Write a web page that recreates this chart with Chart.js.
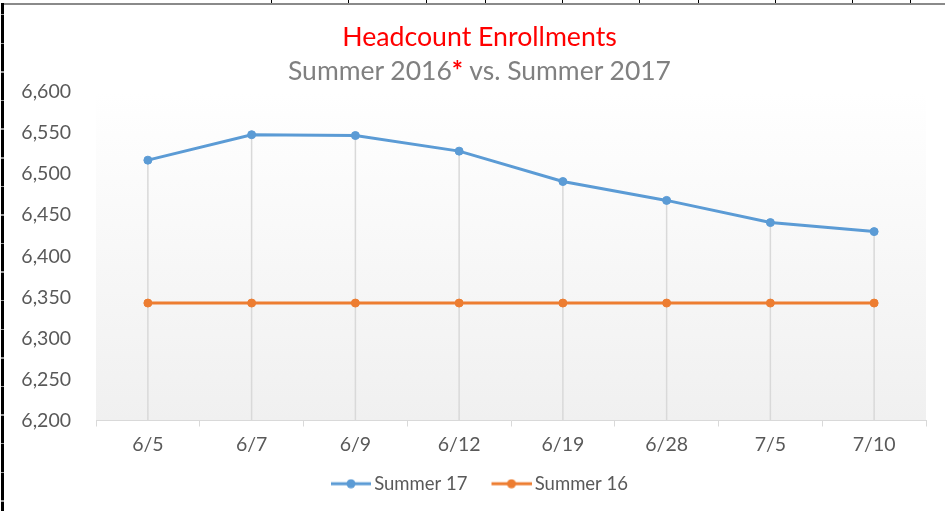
<!DOCTYPE html>
<html>
<head>
<meta charset="utf-8">
<script src="https://cdn.jsdelivr.net/npm/chart.js@4/dist/chart.umd.min.js"></script>
<style>
  html, body { margin: 0; padding: 0; background: #ffffff; }
  #wrap { position: relative; width: 945px; height: 511px; overflow: hidden; background: #ffffff; }
  #chartBox { position: absolute; left: 0; top: 0; width: 945px; height: 511px; }
  .title { position: absolute; left: 7px; width: 945px; text-align: center; font-family: Lato, "Open Sans", sans-serif; white-space: nowrap; }
  #t1 { top: 19px; font-size: 26.7px; color: #ff0000; line-height: 34px; }
  #t2 { top: 53px; font-size: 26.5px; color: #808080; line-height: 34px; }
  #t2 .star { color: #ff0000; font-weight: bold; }
  #topLine { position: absolute; left: 3px; top: 3px; width: 942px; height: 2px; background: #8a8a8a; }
  #leftLine { position: absolute; left: 1px; top: 3px; width: 3px; height: 508px;
    background: repeating-linear-gradient(to bottom, #000 0px, #000 13px, #9a9a9a 13px, #9a9a9a 14.5px, #000 14.5px, #000 28.6px);
    background-position: 0 -2px; }
  .cell { position: absolute; top: 0; width: 1px; height: 3px; background: #000; }
</style>
</head>
<body>
<div id="wrap">
  <div id="chartBox"><canvas id="c" width="945" height="511"></canvas></div>
  <div class="title" id="t1">Headcount Enrollments</div>
  <div class="title" id="t2">Summer 2016<span class="star">*</span> vs. Summer 2017</div>
  <div id="topLine"></div>
  <div id="leftLine"></div>
</div>
<script>
// ---- data ----
const categories = ['6/5', '6/7', '6/9', '6/12', '6/19', '6/28', '7/5', '7/10'];
const summer17 = [6517, 6548, 6547, 6528, 6491, 6468, 6441, 6430];
const summer16 = [6343, 6343, 6343, 6343, 6343, 6343, 6343, 6343];
const seriesNames = ['Summer 17', 'Summer 16'];
const yMin = 6200;
const yMax = 6600;
const yStep = 50;

// spreadsheet cell borders above the chart
const cellXs = [271, 348, 426, 485, 562, 639, 698, 775, 852, 910];
cellXs.forEach(x => {
  const d = document.createElement('div');
  d.className = 'cell';
  d.style.left = x + 'px';
  document.getElementById('wrap').appendChild(d);
});

const BLUE = '#5b9bd5';
const ORANGE = '#ed7d31';
const FONT = 'Lato, "Open Sans", sans-serif';

// legend marker: line with a dot, drawn inside a wider transparent image
function markerImage(color) {
  const cv = document.createElement('canvas');
  cv.width = 60; cv.height = 10;
  const g = cv.getContext('2d');
  g.strokeStyle = color; g.lineWidth = 3;
  g.beginPath(); g.moveTo(20, 5); g.lineTo(60, 5); g.stroke();
  g.fillStyle = color;
  g.beginPath(); g.arc(40, 5, 4.5, 0, Math.PI * 2); g.fill();
  return cv;
}
const markers = [markerImage(BLUE), markerImage(ORANGE)];

const plotBg = {
  id: 'plotBg',
  beforeDraw(chart) {
    const { ctx, chartArea: a } = chart;
    const g = ctx.createLinearGradient(0, a.top, 0, a.bottom);
    g.addColorStop(0, '#ffffff');
    g.addColorStop(1, '#f0f0f0');
    ctx.save();
    ctx.fillStyle = g;
    ctx.fillRect(a.left, a.top, a.right - a.left, a.bottom - a.top);
    ctx.restore();
  }
};

const dropLines = {
  id: 'dropLines',
  beforeDatasetsDraw(chart) {
    const { ctx, scales: { x, y }, chartArea } = chart;
    ctx.save();
    ctx.strokeStyle = '#d9d9d9';
    ctx.lineWidth = 1.5;
    categories.forEach((c, i) => {
      const top = Math.max(...chart.data.datasets.map(d => d.data[i]));
      const px = x.getPixelForValue(i);
      ctx.beginPath();
      ctx.moveTo(px, y.getPixelForValue(top));
      ctx.lineTo(px, chartArea.bottom);
      ctx.stroke();
    });
    ctx.restore();
  }
};

new Chart(document.getElementById('c'), {
  type: 'line',
  data: {
    labels: categories,
    datasets: [
      { label: seriesNames[0], data: summer17, borderColor: BLUE, backgroundColor: BLUE,
        pointBackgroundColor: BLUE, pointBorderColor: BLUE, borderWidth: 3, pointRadius: 4, pointBorderWidth: 1, tension: 0 },
      { label: seriesNames[1], data: summer16, borderColor: ORANGE, backgroundColor: ORANGE,
        pointBackgroundColor: ORANGE, pointBorderColor: ORANGE, borderWidth: 3, pointRadius: 4, pointBorderWidth: 1, tension: 0 }
    ]
  },
  options: {
    responsive: false,
    animation: false,
    layout: { padding: { left: 0, right: 0, top: 92, bottom: 8 } },
    plugins: {
      title: { display: false },
      tooltip: { enabled: false },
      legend: {
        position: 'bottom',
        labels: {
          usePointStyle: true,
          pointStyleWidth: 48,
          padding: 10,
          color: '#595959',
          font: { family: FONT, size: 18.5 },
          generateLabels(chart) {
            const items = Chart.defaults.plugins.legend.labels.generateLabels(chart);
            return items.map((it, i) => Object.assign(it, { pointStyle: markers[i] }));
          }
        }
      }
    },
    scales: {
      x: {
        offset: true,
        grid: { offset: true, drawOnChartArea: false, drawTicks: true, tickLength: 6, color: '#d9d9d9' },
        border: { display: true, color: '#d9d9d9', width: 1 },
        ticks: { color: '#595959', font: { family: FONT, size: 19.5 }, padding: 7, maxRotation: 0 },
        afterFit(s) { s.height = 44; }
      },
      y: {
        min: yMin, max: yMax,
        grid: { display: false },
        border: { display: false },
        ticks: { stepSize: yStep, color: '#595959', font: { family: FONT, size: 19.5 }, padding: 17,
          callback: v => Number(v).toLocaleString('en-US') },
        afterFit(s) { s.width = 96; }
      },
      yR: {
        position: 'right',
        display: true,
        grid: { display: false },
        border: { display: false },
        ticks: { display: false },
        afterFit(s) { s.width = 19; }
      }
    }
  },
  plugins: [plotBg, dropLines]
});
</script>
</body>
</html>
